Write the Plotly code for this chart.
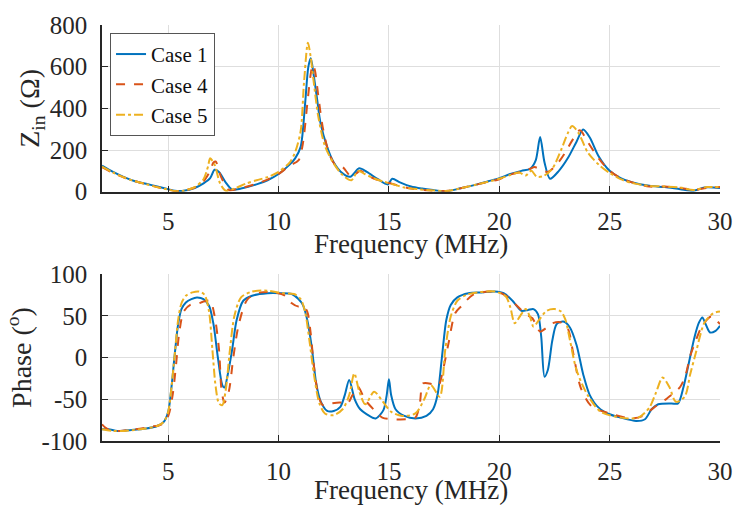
import plotly.graph_objects as go

# ---------------- data: input impedance |Zin| (Ohm) ----------------
f_z1 = [2, 2.5, 3, 3.5, 4, 4.5, 5, 5.3, 5.7, 6.2, 6.6, 6.9, 7.1, 7.3, 7.6, 7.9, 8.3, 9, 9.5, 10, 10.5, 10.75, 11.0, 11.2, 11.35, 11.46, 11.58, 11.73, 11.9, 12.2, 12.5, 12.9, 13.25, 13.65, 14.0, 14.5, 14.95, 15.15, 15.5, 16, 16.5, 17, 17.6, 18.2, 19, 19.5, 20, 20.5, 21, 21.4, 21.65, 21.85, 22.05, 22.3, 22.7, 23.1, 23.5, 23.8, 24.1, 24.5, 25, 25.5, 26, 26.8, 27.5, 28.2, 28.8, 29.3, 30]
z_case1 = [125, 95, 70, 50, 38, 25, 12, 5, 5, 18, 40, 65, 105, 95, 45, 10, 15, 35, 55, 85, 130, 160, 215, 420, 600, 640, 568, 456, 330, 215, 140, 88, 72, 112, 95, 60, 35, 62, 45, 25, 15, 8, 2, 15, 35, 50, 65, 85, 100, 110, 150, 262, 140, 62, 100, 160, 240, 298, 260, 170, 100, 65, 45, 28, 22, 12, 5, 20, 18]

f_z4 = [2, 2.5, 3, 3.5, 4, 4.5, 5, 5.3, 5.7, 6.2, 6.6, 6.9, 7.05, 7.15, 7.4, 7.75, 8.2, 9, 9.5, 10, 10.5, 10.9, 11.1, 11.3, 11.45, 11.55, 11.65, 11.8, 12.0, 12.3, 12.6, 12.9, 13.3, 13.7, 14.0, 14.4, 14.9, 15.4, 16, 16.6, 17.2, 17.7, 18.3, 19, 20, 20.5, 21, 21.4, 21.6, 21.9, 22.2, 22.6, 23.0, 23.3, 23.65, 24.0, 24.5, 25, 25.5, 26, 26.8, 27.5, 28.2, 28.8, 29.4, 30]
z_case4 = [118, 90, 68, 50, 36, 22, 10, 3, 5, 20, 50, 100, 140, 145, 70, 8, 15, 38, 58, 85, 125, 150, 230, 420, 560, 610, 580, 460, 310, 180, 125, 118, 72, 100, 80, 60, 45, 30, 15, 8, 3, 5, 18, 35, 60, 82, 95, 110, 118, 105, 95, 130, 190, 245, 295, 240, 160, 100, 65, 45, 25, 25, 18, 8, 18, 22]

f_z5 = [2, 2.5, 3, 3.5, 4, 4.5, 5, 5.3, 5.7, 6.2, 6.6, 6.8, 6.9, 7.1, 7.35, 7.6, 8.0, 8.5, 9, 9.5, 10, 10.5, 10.75, 11.0, 11.15, 11.33, 11.45, 11.6, 11.8, 12.1, 12.5, 12.9, 13.3, 13.6, 13.9, 14.3, 14.7, 15.2, 15.7, 16.3, 17, 17.6, 18.2, 19, 20, 20.5, 20.9, 21.2, 21.45, 21.7, 22.0, 22.4, 22.8, 23.1, 23.3, 23.6, 24.0, 24.5, 25, 25.5, 26, 26.8, 27.5, 28.2, 28.8, 29.4, 30]
z_case5 = [120, 92, 68, 50, 36, 22, 10, 3, 5, 22, 60, 120, 160, 130, 40, 5, 15, 38, 55, 70, 95, 140, 190, 290, 520, 715, 650, 520, 360, 220, 135, 80, 55, 100, 85, 65, 50, 35, 20, 12, 6, 3, 15, 35, 62, 80, 92, 78, 100, 72, 75, 110, 200, 280, 315, 280, 190, 130, 90, 60, 42, 28, 25, 20, 8, 22, 22]

# ---------------- data: phase (deg) ----------------
f_p1 = [2, 2.3, 2.7, 3.2, 4, 4.5, 4.8, 5.0, 5.15, 5.3, 5.45, 5.6, 5.8, 6.05, 6.3, 6.6, 6.85, 7.05, 7.25, 7.45, 7.55, 7.7, 7.9, 8.1, 8.4, 8.8, 9.5, 10.1, 10.6, 10.9, 11.1, 11.3, 11.5, 11.7, 11.9, 12.2, 12.5, 12.8, 13.0, 13.2, 13.45, 13.7, 14.0, 14.4, 14.75, 14.9, 15.0, 15.1, 15.3, 15.7, 16.2, 16.7, 17.0, 17.2, 17.4, 17.6, 17.8, 18.1, 18.6, 19.2, 19.8, 20.2, 20.6, 21.0, 21.3, 21.55, 21.75, 21.9, 22.05, 22.2, 22.4, 22.6, 22.9, 23.2, 23.5, 23.8, 24.1, 24.5, 25.0, 25.5, 26.2, 26.6, 26.9, 27.2, 27.8, 28.1, 28.35, 28.6, 28.85, 29.05, 29.2, 29.35, 29.55, 29.8, 30]
p_case1 = [-86, -86, -88, -87, -85, -82, -77, -65, -35, 5, 40, 58, 66, 70, 72, 70, 62, 40, 0, -33, -36, -20, 10, 45, 68, 74, 77, 77, 76, 70, 63, 45, 13, -30, -52, -64, -64, -59, -45, -27, -50, -62, -68, -73, -63, -45, -26, -45, -62, -70, -73, -70, -62, -45, 0, 45, 63, 72, 77, 78, 79, 77, 68, 56, 57, 58, 52, 25, -23, -15, 20, 40, 43, 36, 15, -20, -45, -60, -68, -72, -76, -74, -62, -56, -55, -55, -35, -5, 25, 42, 48, 40, 30, 32, 38]

f_p4 = [2, 2.15, 2.4, 2.8, 3.5, 4.2, 4.7, 5.0, 5.2, 5.35, 5.5, 5.7, 6.0, 6.3, 6.6, 6.9, 7.1, 7.3, 7.42, 7.55, 7.75, 7.95, 8.2, 8.6, 9.2, 9.8, 10.3, 10.6, 10.9, 11.1, 11.3, 11.45, 11.6, 11.8, 12.0, 12.4, 12.8, 13.1, 13.35, 13.6, 13.9, 14.3, 14.7, 15.2, 15.8, 16.2, 16.4, 16.55, 17.0, 17.25, 17.45, 17.7, 18.0, 18.3, 18.8, 19.5, 20.0, 20.4, 20.8, 21.2, 21.5, 21.85, 22.1, 22.4, 22.8, 23.1, 23.35, 23.7, 24.2, 25.0, 26.0, 26.5, 27.0, 27.6, 28.2, 28.45, 28.65, 28.9, 29.1, 29.4, 29.6, 30]
p_case4 = [-80, -84, -88, -88, -86, -83, -80, -70, -45, -10, 30, 55, 63, 64, 67, 68, 50, 10, -40, -54, -40, 0, 40, 70, 78, 78, 74, 65, 61, 62, 55, 30, -10, -45, -57, -55, -54, -56, -45, -35, -50, -62, -72, -74, -74, -72, -55, -31, -32, -33, -15, 17, 53, 62, 75, 79, 78, 72, 62, 52, 47, 31, 35, 41, 42, 35, 5, -37, -59, -67, -73, -70, -60, -49, -35, -20, 2, 20, 33, 45, 49, 40]

f_p5 = [2, 2.5, 3, 4, 4.5, 4.8, 5.0, 5.15, 5.3, 5.45, 5.6, 5.8, 6.1, 6.4, 6.65, 6.85, 7.0, 7.15, 7.3, 7.45, 7.6, 7.8, 8.0, 8.3, 8.8, 9.5, 10.2, 10.7, 11.0, 11.2, 11.4, 11.6, 11.85, 12.1, 12.5, 12.9, 13.2, 13.43, 13.65, 13.93, 14.33, 14.7, 15.1, 15.6, 16.2, 16.6, 16.9, 17.3, 17.55, 17.8, 18.1, 18.5, 19, 19.8, 20.3, 20.5, 20.7, 20.95, 21.2, 21.4, 21.55, 21.8, 22.15, 22.5, 22.8, 23.0, 23.2, 23.5, 24.0, 24.6, 25.5, 26.3, 26.8, 27.1, 27.4, 27.7, 28.0, 28.4, 28.65, 28.9, 29.3, 29.7, 30]
p_case5 = [-86, -88, -88, -85, -82, -77, -65, -35, 5, 45, 65, 74, 78, 79, 75, 55, 10, -35, -55, -57, -40, 10, 50, 72, 79, 80, 77, 76, 70, 55, 20, -20, -55, -67, -69, -62, -45, -19, -40, -56, -41, -52, -65, -70, -67, -50, -33, -47, 9, 49, 68, 75, 78, 79, 73, 60, 41, 50, 58, 48, 37, 45, 56, 58, 55, 45, 21, -15, -45, -65, -72, -72, -60, -42, -24, -35, -53, -47, -20, 5, 42, 53, 55]

case_names = ["Case 1", "Case 4", "Case 5"]
x_ticks = [5, 10, 15, 20, 25, 30]
z_ticks = [0, 200, 400, 600, 800]
p_ticks = [-100, -50, 0, 50, 100]
p_tick_text = ["-100", "-50", "0", "50", "100"]
x_title = "Frequency (MHz)"

# ---------------- figure ----------------
colors = ["#0072BD", "#D95319", "#EDB120"]
dashes = ["solid", "dash", "dashdot"]
FONT = "Liberation Serif, Times New Roman, serif"
TXT = "#262626"

fig = go.Figure()
top = [(f_z1, z_case1), (f_z4, z_case4), (f_z5, z_case5)]
bot = [(f_p1, p_case1), (f_p4, p_case4), (f_p5, p_case5)]
for i, (fx, zy) in enumerate(top):
    fig.add_trace(go.Scatter(x=fx, y=zy, mode="lines", name=case_names[i],
                             line=dict(color=colors[i], dash=dashes[i], width=2,
                                       shape="spline", smoothing=0.8),
                             xaxis="x", yaxis="y", showlegend=True))
for i, (fx, py) in enumerate(bot):
    fig.add_trace(go.Scatter(x=fx, y=py, mode="lines", name=case_names[i],
                             line=dict(color=colors[i], dash=dashes[i], width=2,
                                       shape="spline", smoothing=0.8),
                             xaxis="x2", yaxis="y2", showlegend=False))

axis_common = dict(showline=True, linecolor=TXT, linewidth=1.5, mirror=False,
                   ticks="inside", ticklen=6, tickwidth=1.2, tickcolor=TXT,
                   showgrid=True, gridcolor="#dedede", gridwidth=1, zeroline=False,
                   automargin=False,
                   tickfont=dict(family=FONT, size=25, color=TXT))
title_font = dict(family=FONT, size=28, color=TXT)
xtitle_font = dict(family=FONT, size=27, color=TXT)

fig.update_layout(
    width=735, height=509,
    margin=dict(l=102, r=15, t=25, b=68),
    paper_bgcolor="white", plot_bgcolor="white",
    font=dict(family=FONT, color=TXT),
    xaxis=dict(domain=[0, 1], range=[2, 30], tickvals=x_ticks, anchor="y",
               ticklabelstandoff=7, **axis_common),
    yaxis=dict(domain=[0.5993, 1], range=[0, 800], tickvals=z_ticks, anchor="x",
               ticklabelstandoff=8,
               title=dict(text="Z<sub>in</sub> (Ω)", font=title_font, standoff=2),
               **axis_common),
    xaxis2=dict(domain=[0, 1], range=[2, 30], tickvals=x_ticks, anchor="y2",
                ticklabelstandoff=7, **axis_common),
    yaxis2=dict(domain=[0, 0.4014], range=[-100, 100], tickvals=p_ticks, ticktext=p_tick_text,
                anchor="x2", ticklabelstandoff=8,
                title=dict(text="Phase (<sup>o</sup>)", font=title_font, standoff=2),
                **axis_common),
    legend=dict(x=0.013, y=0.981, xanchor="left", yanchor="top",
                bgcolor="white", bordercolor="#555555", borderwidth=1,
                font=dict(family=FONT, size=21, color="#111111"),
                tracegroupgap=0, itemwidth=30),
    annotations=[
        dict(text=x_title, xref="paper", yref="paper", x=0.5, y=0.474,
             xanchor="center", yanchor="middle", showarrow=False, font=xtitle_font),
        dict(text=x_title, xref="paper", yref="paper", x=0.5, y=-0.1585,
             xanchor="center", yanchor="bottom", showarrow=False, font=xtitle_font),
    ],
)

fig.write_html("out.html", config={"displayModeBar": False},
               post_script="document.body.style.margin='0px';")
